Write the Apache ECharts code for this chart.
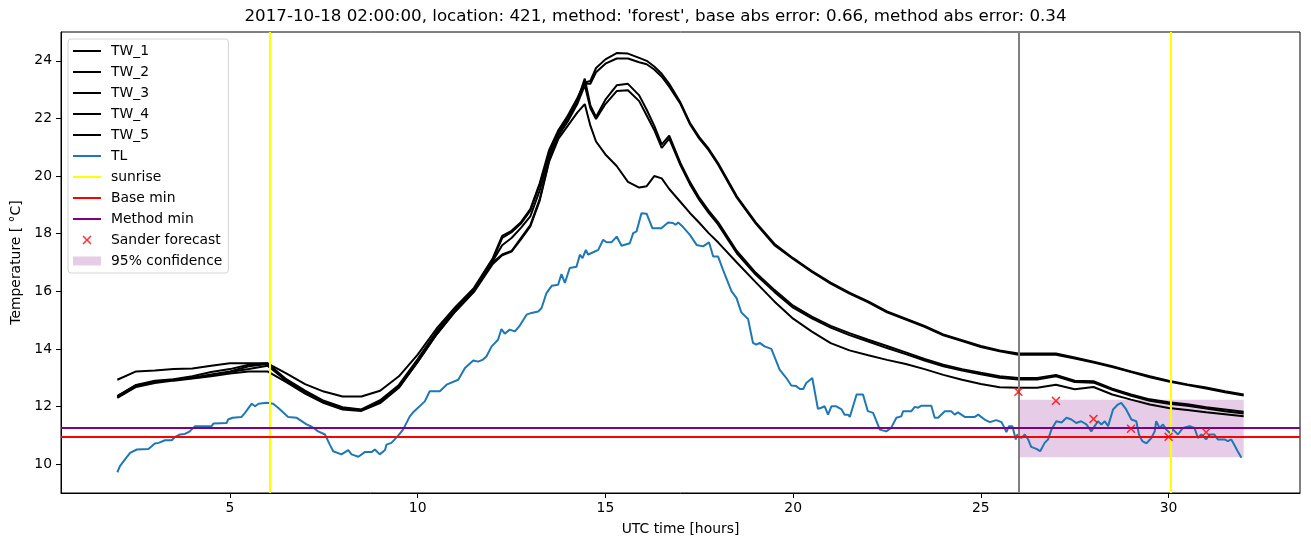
<!DOCTYPE html>
<html>
<head>
<meta charset="utf-8">
<script src="https://cdn.jsdelivr.net/npm/echarts@6/dist/echarts.min.js"></script>
<style>
  body { margin: 0; background: #fff; }
  #main { width: 1311px; height: 547px; }
</style>
</head>
<body>
<div id="main"></div>
<script>
// time axis of the TW_* curves [hours UTC]
const twHours = [2, 2.5, 3, 3.5, 4, 4.5, 5, 5.5, 6, 6.5, 7, 7.5, 8, 8.5, 9, 9.5, 10, 10.5, 11, 11.5, 12,
  12.25, 12.5, 12.75, 13, 13.25, 13.5, 13.75, 14, 14.25, 14.45, 14.6, 14.75, 15, 15.3, 15.6, 15.9, 16.1, 16.3,
  16.5, 16.7, 17, 17.25, 17.5, 17.75, 18, 18.5, 19, 19.5, 20, 20.5, 21, 21.5, 22, 22.5, 23, 23.5, 24, 24.5,
  25, 25.5, 26, 26.5, 27, 27.5, 28, 28.5, 29, 29.5, 30, 30.5, 31, 31.5, 32];

const tw1 = [12.93, 13.22, 13.25, 13.30, 13.32, 13.42, 13.50, 13.50, 13.50, 13.15, 12.78, 12.52, 12.35, 12.35,
  12.55, 13.05, 13.80, 14.70, 15.45, 16.12, 17.15, 17.92, 18.10, 18.40, 18.85, 19.75, 20.90, 21.60, 22.10,
  22.70, 23.25, 23.30, 23.75, 24.05, 24.27, 24.25, 24.10, 24.00, 23.80, 23.55, 23.20, 22.55, 21.85, 21.35,
  20.95, 20.45, 19.30, 18.40, 17.65, 17.15, 16.70, 16.30, 15.95, 15.65, 15.30, 15.05, 14.80, 14.50, 14.30,
  14.10, 13.95, 13.84, 13.84, 13.84, 13.70, 13.56, 13.40, 13.22, 13.05, 12.90, 12.77, 12.66, 12.53, 12.42];
const tw2 = [12.36, 12.75, 12.90, 12.95, 13.05, 13.20, 13.30, 13.45, 13.50, 12.95, 12.55, 12.20, 11.98, 11.90,
  12.22, 12.75, 13.65, 14.60, 15.40, 16.08, 17.10, 17.85, 18.05, 18.35, 18.80, 19.70, 20.80, 21.55, 22.05,
  22.65, 23.20, 23.20, 23.60, 23.90, 24.08, 24.08, 23.95, 23.88, 23.70, 23.45, 23.10, 22.50, 21.80, 21.30,
  20.90, 20.40, 19.25, 18.36, 17.60, 17.12, 16.67, 16.27, 15.92, 15.62, 15.27, 15.02, 14.77, 14.47, 14.27,
  14.07, 13.92, 13.80, 13.80, 13.80, 13.67, 13.53, 13.37, 13.20, 13.02, 12.87, 12.75, 12.63, 12.50, 12.38];
const tw3 = [12.33, 12.72, 12.86, 12.93, 13.00, 13.11, 13.22, 13.40, 13.48, 12.90, 12.50, 12.18, 11.95, 11.88,
  12.18, 12.70, 13.60, 14.55, 15.35, 16.05, 17.05, 17.60, 17.85, 18.20, 18.60, 19.50, 20.70, 21.50, 22.00,
  22.60, 23.38, 22.45, 22.05, 22.65, 23.15, 23.20, 22.80, 22.30, 21.75, 21.10, 21.40, 20.45, 19.80, 19.25,
  18.80, 18.40, 17.40, 16.65, 16.05, 15.50, 15.12, 14.80, 14.55, 14.32, 14.10, 13.88, 13.65, 13.45, 13.30,
  13.17, 13.05, 12.99, 12.99, 13.10, 12.90, 12.88, 12.62, 12.42, 12.25, 12.15, 12.08, 11.98, 11.90, 11.82];
const tw4 = [12.30, 12.68, 12.82, 12.90, 12.97, 13.05, 13.15, 13.22, 13.22, 12.85, 12.45, 12.12, 11.90, 11.85,
  12.12, 12.65, 13.55, 14.50, 15.30, 16.00, 17.00, 17.28, 17.40, 17.85, 18.30, 19.20, 20.55, 21.40, 21.90,
  22.50, 23.15, 22.35, 21.98, 22.50, 22.95, 22.98, 22.60, 22.10, 21.60, 20.98, 21.30, 20.37, 19.72, 19.17,
  18.72, 18.32, 17.32, 16.58, 15.98, 15.43, 15.06, 14.74, 14.48, 14.26, 14.03, 13.82, 13.60, 13.40, 13.25,
  13.12, 13.00, 12.94, 12.94, 13.05, 12.85, 12.83, 12.58, 12.37, 12.20, 12.10, 12.03, 11.93, 11.84, 11.76];
const tw5 = [12.36, 12.74, 12.85, 12.92, 12.99, 13.08, 13.20, 13.30, 13.42, 12.90, 12.50, 12.15, 11.92, 11.87,
  12.15, 12.68, 13.55, 14.50, 15.30, 15.98, 16.95, 17.25, 17.38, 17.80, 18.25, 19.15, 20.50, 21.30, 21.75,
  22.20, 22.50, 21.75, 21.20, 20.75, 20.35, 19.80, 19.60, 19.65, 20.00, 19.92, 19.55, 19.10, 18.72, 18.38,
  18.02, 17.70, 17.00, 16.32, 15.65, 15.05, 14.60, 14.20, 13.95, 13.78, 13.62, 13.48, 13.30, 13.10, 12.93,
  12.78, 12.67, 12.65, 12.65, 12.76, 12.60, 12.68, 12.42, 12.24, 12.07, 11.95, 11.88, 11.80, 11.73, 11.66];

// TL measurements
const tlHours = [2.00, 2.07, 2.20, 2.34, 2.52, 2.83, 3.00, 3.10, 3.27, 3.45, 3.54, 3.67, 3.80, 3.93, 4.07, 4.51,
  4.56, 4.91, 4.95, 5.07, 5.31, 5.40, 5.58, 5.67, 5.76, 5.98, 6.15, 6.29, 6.55, 6.78, 7.04, 7.18, 7.35, 7.53,
  7.66, 7.75, 7.97, 8.15, 8.24, 8.42, 8.59, 8.77, 8.86, 8.99, 9.13, 9.17, 9.30, 9.39, 9.48, 9.61, 9.79, 9.88,
  10.19, 10.32, 10.59, 10.77, 11.08, 11.26, 11.48, 11.61, 11.74, 11.83, 11.97, 12.14, 12.23, 12.32, 12.45,
  12.59, 12.72, 12.90, 13.03, 13.21, 13.30, 13.43, 13.57, 13.74, 13.83, 13.92, 14.05, 14.23, 14.32, 14.39,
  14.48, 14.54, 14.63, 14.81, 14.94, 15.03, 15.16, 15.30, 15.43, 15.65, 15.74, 15.83, 15.96, 16.10, 16.25,
  16.49, 16.67, 16.80, 16.87, 16.94, 17.07, 17.25, 17.43, 17.60, 17.76, 17.87, 18.00, 18.13, 18.36, 18.49,
  18.62, 18.80, 18.93, 19.02, 19.11, 19.24, 19.42, 19.64, 19.82, 19.95, 20.08, 20.18, 20.27, 20.35, 20.51,
  20.66, 20.75, 20.84, 20.93, 21.02, 21.15, 21.29, 21.37, 21.46, 21.51, 21.69, 21.86, 21.99, 22.13, 22.31,
  22.48, 22.61, 22.75, 22.88, 22.93, 23.15, 23.24, 23.33, 23.42, 23.68, 23.77, 23.86, 24.04, 24.21, 24.30,
  24.39, 24.57, 24.84, 24.93, 25.10, 25.24, 25.41, 25.55, 25.63, 25.68, 25.75, 25.84, 25.93, 25.97, 26.08,
  26.17, 26.26, 26.34, 26.48, 26.58, 26.70, 26.79, 26.88, 27.01, 27.15, 27.28, 27.41, 27.54, 27.67, 27.81,
  27.94, 28.03, 28.12, 28.21, 28.30, 28.39, 28.52, 28.65, 28.74, 28.87, 29.01, 29.14, 29.21, 29.30, 29.41,
  29.54, 29.63, 29.67, 29.76, 29.85, 29.94, 30.03, 30.12, 30.25, 30.38, 30.56, 30.69, 30.78, 30.87, 31.00,
  31.09, 31.22, 31.31, 31.49, 31.58, 31.67, 31.76, 31.84, 31.94];
const tlTemp = [9.72, 9.93, 10.16, 10.39, 10.51, 10.53, 10.72, 10.74, 10.83, 10.83, 10.95, 11.03, 11.05, 11.14,
  11.32, 11.32, 11.41, 11.43, 11.55, 11.61, 11.64, 11.78, 12.10, 12.01, 12.10, 12.13, 12.10, 11.95, 11.64,
  11.61, 11.38, 11.30, 11.14, 11.03, 10.68, 10.45, 10.34, 10.49, 10.34, 10.26, 10.42, 10.42, 10.51, 10.34,
  10.49, 10.68, 10.74, 10.86, 10.99, 11.20, 11.66, 11.80, 12.18, 12.53, 12.53, 12.76, 12.93, 13.34, 13.60,
  13.56, 13.63, 13.74, 14.09, 14.32, 14.69, 14.53, 14.67, 14.61, 14.81, 15.19, 15.25, 15.30, 15.42, 15.94,
  16.19, 16.23, 16.60, 16.29, 16.81, 16.85, 17.27, 17.15, 17.44, 17.27, 17.33, 17.44, 17.79, 17.70, 17.70,
  17.90, 17.58, 17.67, 18.02, 18.08, 18.71, 18.69, 18.19, 18.19, 18.39, 18.37, 18.31, 18.39, 18.23, 17.96,
  17.61, 17.56, 17.70, 17.21, 17.21, 16.75, 16.00, 15.77, 15.27, 15.04, 14.21, 14.15, 14.21, 14.09, 14.00,
  13.28, 12.99, 12.73, 12.71, 12.61, 12.61, 12.82, 12.99, 11.92, 11.96, 12.01, 11.72, 12.01, 12.01, 11.90,
  11.72, 11.72, 11.64, 12.42, 12.42, 11.84, 11.78, 11.20, 11.14, 11.26, 11.61, 11.66, 11.84, 11.84, 11.99,
  11.96, 12.03, 12.03, 11.61, 11.61, 11.84, 11.84, 11.72, 11.80, 11.64, 11.64, 11.72, 11.55, 11.46, 11.53,
  11.46, 11.26, 11.11, 11.32, 11.32, 10.86, 11.03, 10.91, 11.03, 10.86, 10.60, 10.53, 10.45, 10.74, 10.86,
  11.20, 11.49, 11.45, 11.61, 11.55, 11.43, 11.49, 11.38, 11.14, 11.32, 11.49, 11.38, 11.49, 11.32, 11.90,
  12.07, 12.13, 11.90, 11.55, 11.49, 11.03, 10.80, 10.72, 10.91, 11.14, 11.49, 11.26, 11.38, 11.20, 11.09,
  11.20, 11.03, 11.26, 11.32, 11.26, 10.91, 11.03, 10.86, 11.03, 11.03, 10.86, 10.86, 10.80, 10.86, 10.65,
  10.45, 10.22];

const sunriseHours = [6.05, 30.06];
const forecastStart = [26.0];
const baseMin = 10.95;
const methodMin = 11.27;

const sanderHours = [26, 27, 28, 29, 30, 31];
const sanderTemp = [12.51, 12.20, 11.57, 11.23, 10.95, 11.11];

const bandHours = [26, 32];
const bandUpper = [12.24, 12.24];
const bandLower = [10.24, 10.24];

const xTicks = [5, 10, 15, 20, 25, 30];
const yTicks = [10, 12, 14, 16, 18, 20, 22, 24];

const font = 'DejaVu Sans';
const fs = 13.9;
const lineIcon = 'path://M0,0L28,0L28,2L0,2Z';
const crossIcon = 'path://M1.2,0L5,3.8L8.8,0L10,1.2L6.2,5L10,8.8L8.8,10L5,6.2L1.2,10L0,8.8L3.8,5L0,1.2Z';

function zip(xs, ys) {
  return xs.map((x, i) => [x, ys[i]]);
}

let myChart = echarts.init(document.getElementById('main'));

function blackLine(name, values) {
  return {
    name: name, type: 'line', data: zip(twHours, values), symbol: 'none', z: 2,
    color: '#000', lineStyle: { color: '#000', width: 2 }
  };
}

function markOnly(name, color, lines) {
  return {
    name: name, type: 'line', data: [], symbol: 'none', color: color,
    lineStyle: { color: color, width: 2 },
    markLine: {
      silent: true, symbol: ['none', 'none'], z: 4,
      label: { show: false },
      lineStyle: { color: color, width: 2, type: 'solid' },
      data: lines
    }
  };
}

let legendNames = ['TW_1', 'TW_2', 'TW_3', 'TW_4', 'TW_5', 'TL', 'sunrise', 'Base min', 'Method min'];
let legendData = legendNames.map(n => ({ name: n, icon: lineIcon, itemStyle: { borderWidth: 0 } }));
legendData.push({ name: 'Sander forecast', icon: crossIcon, itemStyle: { borderWidth: 0 } });
legendData.push({ name: '95% confidence', icon: 'rect', itemStyle: { color: 'rgba(128,0,128,0.2)', borderWidth: 0 } });

let option = {
  animation: false,
  title: {
    text: "2017-10-18 02:00:00, location: 421, method: 'forest', base abs error: 0.66, method abs error: 0.34",
    left: 'center', top: 8, padding: [0, 0, 0, 50],
    textStyle: { fontFamily: font, fontSize: 16.7, fontWeight: 'normal', color: '#000', lineHeight: 18 }
  },
  grid: { left: 61, right: 11, top: 32, bottom: 54, show: true, borderColor: '#000', borderWidth: 1 },
  legend: {
    orient: 'vertical', left: 68, top: 39,
    itemWidth: 28, itemHeight: 9, itemGap: 7,
    padding: [5, 6, 5, 5],
    backgroundColor: 'rgba(255,255,255,0.8)', borderColor: '#d4d4d4', borderWidth: 1, borderRadius: 3,
    selectedMode: false,
    textStyle: { fontFamily: font, fontSize: fs, color: '#000', lineHeight: 14, padding: [0, 0, 0, 5] },
    data: legendData
  },
  xAxis: {
    type: 'value', min: 0.5, max: 33.5,
    name: 'UTC time [hours]', nameLocation: 'middle', nameGap: 29,
    nameTextStyle: { fontFamily: font, fontSize: fs, color: '#000' },
    axisLine: { show: true, onZero: false, lineStyle: { color: '#000', width: 1 } },
    axisTick: { show: true, length: 5, lineStyle: { color: '#000', width: 1 }, customValues: xTicks },
    axisLabel: { customValues: xTicks, margin: 8, fontFamily: font, fontSize: fs, color: '#000' },
    splitLine: { show: false }
  },
  yAxis: {
    type: 'value', min: 9.0, max: 25.0,
    name: 'Temperature [ °C]', nameLocation: 'middle', nameGap: 36,
    nameTextStyle: { fontFamily: font, fontSize: fs, color: '#000', lineHeight: 14 },
    axisLine: { show: true, onZero: false, lineStyle: { color: '#000', width: 1 } },
    axisTick: { show: true, length: 5, lineStyle: { color: '#000', width: 1 }, customValues: yTicks },
    axisLabel: { customValues: yTicks, margin: 9, fontFamily: font, fontSize: fs, color: '#000' },
    splitLine: { show: false }
  },
  series: [
    {
      name: '95% confidence', type: 'line', data: zip(bandHours, bandUpper), symbol: 'none', z: 1,
      color: 'rgba(128,0,128,0.2)',
      lineStyle: { width: 0, opacity: 0 },
      areaStyle: { color: 'rgba(128,0,128,0.2)', opacity: 1, origin: bandLower[0] }
    },
    blackLine('TW_1', tw1),
    blackLine('TW_2', tw2),
    blackLine('TW_3', tw3),
    blackLine('TW_4', tw4),
    blackLine('TW_5', tw5),
    {
      name: 'TL', type: 'line', data: zip(tlHours, tlTemp), symbol: 'none', z: 3,
      color: '#1f77b4', lineStyle: { color: '#1f77b4', width: 2 }
    },
    markOnly('forecast start', '#808080', forecastStart.map(h => ({ xAxis: h }))),
    markOnly('sunrise', '#ffff00', sunriseHours.map(h => ({ xAxis: h }))),
    markOnly('Base min', '#ff0000', [{ yAxis: baseMin }]),
    markOnly('Method min', '#800080', [{ yAxis: methodMin }]),
    {
      name: 'Sander forecast', type: 'scatter', data: zip(sanderHours, sanderTemp), z: 6,
      symbol: crossIcon, symbolSize: 9, color: '#ff0000',
      itemStyle: { color: '#ff0000' }
    }
  ]
};

myChart.setOption(option);
</script>
</body>
</html>
